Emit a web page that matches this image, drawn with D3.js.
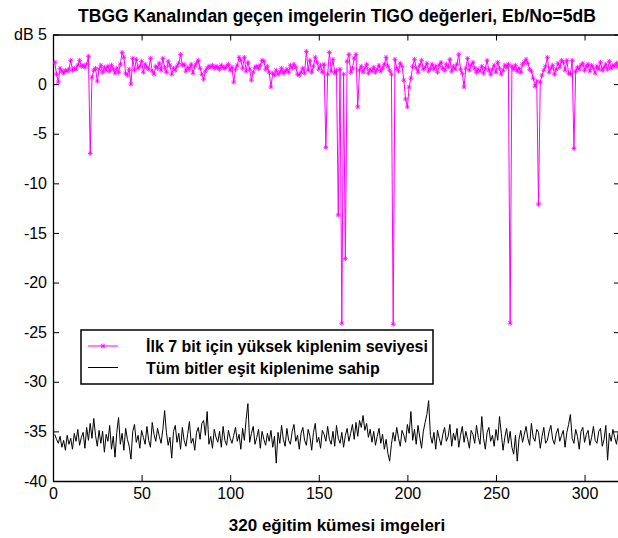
<!DOCTYPE html>
<html>
<head>
<meta charset="utf-8">
<script src="https://cdn.jsdelivr.net/npm/d3@7"></script>
<style>
  body { margin: 0; background: #fff; }
  svg text { font-family: "Liberation Sans", Arial, sans-serif; }
</style>
</head>
<body>
<svg id="chart" width="618" height="538"></svg>
<script>
// TIGO values (dB), images 1..320
const highMod = [
  2.2, 1.0, 0.2, 1.6, 1.3, 1.1, 1.4, 1.3, 1.5, 2.4, 1.4, 1.6, 1.5, 1.9, 2.4, 1.8, 1.9, 1.7, 2.0, 2.8,
  -7.0, 0.7, 1.4, 1.6, 0.3, 1.5, 1.9, 1.2, 1.7, 1.4, 1.8, 1.3, 1.9, 1.5, 1.1, 1.6, 1.2, 2.0, 3.2, 2.7,
  1.1, 0.9, 1.5, 0.0, 2.6, 1.4, 2.5, 1.6, 1.8, 2.3, 1.2, 2.0, 1.7, 1.5, 2.6, 1.3, 1.0, 1.8, 1.6, 2.1,
  1.4, 2.6, 1.7, 1.2, 2.3, 1.9, 1.0, 1.6, 1.4, 1.8, 2.1, 3.0, 1.9, 2.0, 1.3, 1.7, 1.5, 2.0, 1.1, 1.8,
  2.1, 2.4, 1.6, 1.0, 0.5, 1.3, 1.6, 1.8, 1.7, 1.9, 1.6, 1.8, 1.7, 1.5, 1.9, 1.7, 1.6, 1.8, 2.0, 1.4,
  1.7, 0.2, 1.5, 1.9, 2.7, 2.4, 1.6, 2.7, 1.3, 2.2, 1.5, 0.4, 1.2, 1.7, 1.8, 1.6, 1.9, 2.4, 2.3, 1.5,
  1.8, 1.2, -0.3, 1.1, 0.9, 1.4, 1.0, 1.2, 1.6, 1.1, 1.3, 1.5, 1.2, 1.9, 1.6, 2.0, 1.7, 1.0, 0.9, 1.2,
  1.6, 1.1, 3.3, 1.4, 2.4, 1.2, 1.8, 2.7, 2.2, 1.5, 1.9, 1.2, 2.0, -6.4, 1.0, 3.2, 1.3, 2.5, 1.1, 1.4,
  -13.2, 1.5, -24.1, 1.0, -17.6, 2.3, 3.0, 1.2, 1.6, 2.6, 3.0, -2.3, 1.4, 1.8, 1.2, 1.6, 2.0, 1.1, 1.5, 1.3,
  1.7, 1.2, 1.5, 1.9, 1.3, 1.6, 2.0, 2.7, 1.8, 1.4, 1.0, -24.2, 2.5, 1.6, 1.3, 2.1, 1.8, 0.4, -1.5, -2.3,
  -0.3, 0.6, 1.8, 2.5, 1.6, 1.2, 1.9, 2.4, 1.5, 1.7, 2.1, 1.3, 1.6, 2.0, 1.5, 1.8, 1.2, 1.9, 2.2, 1.6,
  1.4, 2.0, 1.7, 2.5, 1.3, 1.8, 1.5, 2.0, 3.0, 1.5, 1.1, -0.3, 1.6, 2.6, 1.4, 1.9, 2.2, 1.6, 1.2, 1.5,
  1.3, 1.8, 1.1, 1.6, 2.4, 1.4, 1.0, 1.5, 1.9, 1.2, 2.2, 1.6, 1.0, 1.4, 1.9, 1.7, 2.0, -24.1, 1.8, 1.5,
  1.9, 1.3, 1.6, 1.2, 2.0, 2.2, 2.5, 2.1, 1.5, 1.3, 0.6, -0.2, 0.3, -12.1, 0.2, 0.9, 1.4, 1.8, 2.7, 1.2,
  1.6, 1.9, 1.0, 1.5, 2.1, 1.7, 2.4, 2.2, 1.4, 2.4, 1.1, 1.0, 2.4, -6.5, 1.3, 1.7, 1.5, 1.9, 2.1, 1.4,
  1.8, 2.0, 1.3, 1.9, 1.6, 1.1, 1.8, 1.5, 2.2, 1.4, 1.7, 2.0, 1.5, 2.3, 1.6, 1.9, 1.8, 2.1, 1.7, 2.2
];

const equalMod = [
  -35.3, -35.8, -36.2, -35.5, -36.6, -35.9, -36.9, -35.4, -36.3, -35.7, -36.8, -35.2, -36.0, -34.8, -36.4, -35.6, -35.1, -36.7, -34.6, -35.9,
  -34.2, -35.7, -33.7, -35.4, -36.5, -34.9, -36.2, -35.0, -37.1, -35.3, -36.0, -34.4, -36.8, -35.5, -37.6, -35.1, -33.6, -36.3, -35.2, -36.9,
  -34.7, -35.8, -36.5, -37.8, -35.0, -34.3, -36.1, -35.4, -36.7, -34.9, -35.6, -36.3, -34.5, -35.9, -36.6, -34.1, -35.3, -36.0, -34.7, -35.5,
  -36.2, -34.8, -32.9, -35.1, -36.4, -35.6, -37.7, -35.0, -34.4, -36.1, -35.2, -36.8, -34.6, -35.9, -36.5, -35.3, -34.0, -36.2, -35.7, -36.9,
  -35.1, -34.6, -35.8, -34.2, -33.9, -35.4, -33.0, -36.3, -35.5, -36.7, -34.8, -35.6, -36.1, -35.0, -36.6, -34.5, -35.9, -36.4, -34.9, -35.7,
  -36.2, -35.4, -34.6, -36.0, -35.3, -36.8, -34.7, -35.9, -33.8, -32.2, -36.1, -35.2, -34.5, -36.3, -35.6, -34.8, -36.7, -35.0, -35.8, -36.4,
  -35.2, -36.0, -34.9, -36.6, -35.5, -38.2, -35.1, -36.2, -34.4, -35.8, -36.5, -34.7, -35.9, -36.3, -35.0, -34.3, -36.0, -35.4, -36.8, -35.2,
  -34.6, -35.9, -36.4, -34.8, -35.5, -36.9, -35.1, -34.2, -36.1, -35.6, -36.7, -34.9, -35.3, -36.0, -34.5, -35.8, -36.3, -35.0, -36.5, -34.4,
  -35.7, -36.2, -35.1, -36.6, -35.4, -34.7, -36.0, -35.2, -34.3, -35.8, -34.1, -35.5, -33.9, -34.6, -33.4, -34.9, -34.2, -35.6, -34.8, -36.1,
  -35.0, -36.4, -35.5, -34.7, -36.2, -35.3, -36.8, -35.8, -37.2, -38.0, -36.3, -35.1, -36.0, -34.6, -35.7, -36.5, -34.9, -35.4, -36.1, -34.3,
  -35.2, -33.0, -35.9, -34.8, -36.3, -34.4, -35.6, -36.7, -35.0, -34.1, -33.3, -31.9, -35.4, -36.2, -35.1, -36.8, -34.9, -35.7, -36.4, -35.3,
  -34.6, -36.0, -35.5, -34.3, -36.5, -35.2, -35.9, -34.7, -36.6, -35.4, -34.5, -36.1, -35.0, -35.8, -36.7, -34.9, -35.3, -36.2, -34.4, -35.6,
  -36.3, -33.5, -35.7, -36.8, -35.1, -34.6, -36.0, -35.4, -36.5, -34.8, -35.9, -33.5, -35.2, -36.9, -35.6, -34.7, -36.2, -35.0, -36.6, -37.3,
  -35.4, -38.0, -35.8, -34.9, -36.1, -35.3, -34.5, -35.7, -36.4, -34.2, -35.6, -36.0, -34.8, -35.1, -36.7, -35.5, -34.6, -36.2, -35.9, -35.0,
  -34.4, -35.8, -36.3, -35.2, -34.7, -36.0, -35.4, -34.9, -36.6, -35.1, -34.3, -33.3, -35.7, -36.2, -34.8, -35.5, -36.8, -35.0, -34.6, -36.1,
  -35.3, -34.9, -36.4, -35.6, -34.5, -35.9, -36.2, -35.0, -34.7, -36.5, -35.8, -34.4, -37.9, -35.2, -36.0, -34.8, -35.6, -36.3, -35.1, -36.0
];

const xTicks = [0, 50, 100, 150, 200, 250, 300];
const yTicks = [5, 0, -5, -10, -15, -20, -25, -30, -35, -40];
const seriesNames = ['İlk 7 bit için yüksek kiplenim seviyesi', 'Tüm bitler eşit kiplenime sahip'];
const titleText = 'TBGG Kanalından geçen imgelerin TIGO değerleri, Eb/No=5dB';
const xLabel = '320 eğitim kümesi imgeleri';

const svg = d3.select('#chart');
svg.append('rect').attr('width', 618).attr('height', 538).attr('fill', '#fff');

const x = d3.scaleLinear().domain([0, 320]).range([53, 620]);
const y = d3.scaleLinear().domain([-40, 5]).range([481, 34.5]);

svg.append('defs').append('clipPath').attr('id', 'plot-clip')
  .append('rect')
  .attr('x', x(0)).attr('y', y(5))
  .attr('width', x(320) - x(0)).attr('height', y(-40) - y(5));

// axes box with inward ticks (matlab style)
const axBottom = svg.append('g')
  .attr('transform', `translate(0,${y(-40)})`)
  .call(d3.axisBottom(x).tickValues(xTicks).tickSizeInner(-6).tickSizeOuter(0).tickPadding(7));
const axTop = svg.append('g')
  .attr('transform', `translate(0,${y(5)})`)
  .call(d3.axisTop(x).tickValues(xTicks).tickSizeInner(-6).tickSizeOuter(0).tickFormat(''));
const axLeft = svg.append('g')
  .attr('transform', `translate(${x(0)},0)`)
  .call(d3.axisLeft(y).tickValues(yTicks).tickSizeInner(-6).tickSizeOuter(0).tickPadding(6)
    .tickFormat(d => d === 5 ? 'dB 5' : d));
const axRight = svg.append('g')
  .attr('transform', `translate(${x(320)},0)`)
  .call(d3.axisRight(y).tickValues(yTicks).tickSizeInner(-6).tickSizeOuter(0).tickFormat(''));

[axBottom, axTop, axLeft, axRight].forEach(g => {
  g.select('.domain').attr('stroke', '#000').attr('stroke-width', 1.3);
  g.selectAll('.tick line').attr('stroke', '#000');
  g.selectAll('.tick text')
    .attr('fill', '#000')
    .style('font-size', '16px')
    .style('font-family', '"Liberation Sans", Arial, sans-serif');
});

const plot = svg.append('g').attr('clip-path', 'url(#plot-clip)');

const line = d3.line()
  .x((d, i) => x(i + 1))
  .y(d => y(d));

plot.append('path')
  .datum(equalMod)
  .attr('fill', 'none')
  .attr('stroke', '#000')
  .attr('stroke-width', 1)
  .attr('d', line);

plot.append('path')
  .datum(highMod)
  .attr('fill', 'none')
  .attr('stroke', '#ff00ff')
  .attr('stroke-width', 1)
  .attr('d', line);

// '*' markers
const star = 'M-2.5,0H2.5M0,-2.5V2.5M-1.8,-1.8L1.8,1.8M-1.8,1.8L1.8,-1.8';
plot.append('g')
  .selectAll('path')
  .data(highMod)
  .join('path')
  .attr('transform', (d, i) => `translate(${x(i + 1)},${y(d)})`)
  .attr('d', star)
  .attr('stroke', '#ff00ff')
  .attr('stroke-width', 0.8)
  .attr('fill', 'none');

// title + label
svg.append('text')
  .attr('x', 337).attr('y', 22)
  .attr('text-anchor', 'middle')
  .style('font-size', '17.5px').style('font-weight', 'bold')
  .text(titleText);

svg.append('text')
  .attr('x', 337).attr('y', 531)
  .attr('text-anchor', 'middle')
  .style('font-size', '17px').style('font-weight', 'bold')
  .text(xLabel);

// legend
const legend = svg.append('g');
legend.append('rect')
  .attr('x', 81).attr('y', 330)
  .attr('width', 352).attr('height', 54)
  .attr('fill', '#fff')
  .attr('stroke', '#000')
  .attr('stroke-width', 1.5);

const legendColors = ['#ff00ff', '#000'];
seriesNames.forEach((name, i) => {
  const ly = 346 + i * 21.5;
  legend.append('line')
    .attr('x1', 88).attr('x2', 118)
    .attr('y1', ly).attr('y2', ly)
    .attr('stroke', legendColors[i]);
  if (i === 0) {
    legend.append('path')
      .attr('transform', `translate(103,${ly})`)
      .attr('d', star)
      .attr('stroke', '#ff00ff')
      .attr('stroke-width', 0.8);
  }
  legend.append('text')
    .attr('x', 146).attr('y', ly + 6)
    .style('font-size', '16px').style('font-weight', 'bold')
    .text(name);
});
</script>
</body>
</html>
